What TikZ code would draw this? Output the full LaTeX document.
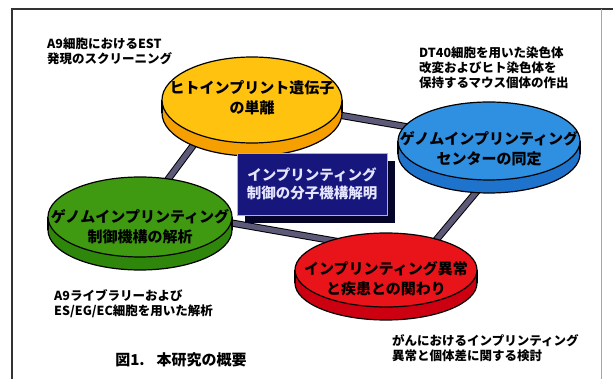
\documentclass[tikz,border=0pt]{standalone}
\usepackage{fontspec}
\newfontfamily\jp{Noto Sans CJK JP}
\usetikzlibrary{shapes.geometric,backgrounds}
\definecolor{yface}{HTML}{FFC20E}
\definecolor{yside}{HTML}{F5A000}
\definecolor{bface}{HTML}{2F8FE0}
\definecolor{bside}{HTML}{1E74CC}
\definecolor{gface}{HTML}{3F9A12}
\definecolor{gside}{HTML}{2E860A}
\definecolor{rface}{HTML}{E8141A}
\definecolor{rside}{HTML}{CC0010}
\definecolor{connc}{HTML}{5C5A78}
\definecolor{boxc}{HTML}{16167C}
\definecolor{boxsh}{HTML}{05052A}
\tikzset{
  outl/.style={draw=black, line width=1.2pt},
  disctext/.style={font=\jp\bfseries\fontsize{15}{20}\selectfont, align=center, inner sep=0pt, text=black},
  note/.style={font=\jp\bfseries\fontsize{12.5}{15}\selectfont, align=left, inner sep=0pt, anchor=north west, text=black},
  conn/.style={draw=black, line width=1pt, double=connc, double distance=5.2pt},
}
\newcommand\mydisc[9]{%
  \node[ellipse, outl, fill=#7, minimum width={2*#4 pt}, minimum height={2*#5 pt}, inner sep=0pt] (#1b) at (#2,#3+13) {};
  \fill[#7] (#2-#4,#3) rectangle (#2+#4,#3+13);
  \draw[line width=1.2pt] (#2-#4,#3) -- (#2-#4,#3+13) (#2+#4,#3) -- (#2+#4,#3+13);
  \node[ellipse, outl, fill=#6, minimum width={2*#4 pt}, minimum height={2*#5 pt}, inner sep=0pt] (#1) at (#2,#3) {};
  \node[disctext] (#1t) at (#2,#3+#9) {#8};
}
\begin{document}
\begin{tikzpicture}[x=1pt,y=-1pt]
\useasboundingbox (0,0) rectangle (613,379);
% discs
\mydisc{Y}{252}{100}{90}{43}{yface}{yside}{ヒトインプリント遺伝子\\の単離}{-2}
\mydisc{B}{489}{141}{91}{39}{bface}{bside}{ゲノムインプリンティング\\センターの同定}{8}
\mydisc{G}{140}{217}{92}{40}{gface}{gside}{ゲノムインプリンティング\\制御機構の解析}{10}
\mydisc{R}{386}{270}{91}{37}{rface}{rside}{インプリンティング異常\\と疾患との関わり}{9}
% center box
\node[fill=boxsh, minimum width=150pt, minimum height=62pt, inner sep=0pt] (Cs) at (320,192) {};
\node[fill=boxc, draw=black!30, line width=0.6pt, minimum width=150pt, minimum height=62pt, inner sep=0pt] (C) at (312,184) {};
\node[font=\jp\bfseries\fontsize{14.5}{18}\selectfont, align=center, text=white!90!blue, inner sep=0pt] (Ct) at (C) {インプリンティング\\制御の分子機構解明};
% notes
\node[note] (n1) at (47,38) {A9細胞におけるEST\\発現のスクリーニング};
\node[note] (n2) at (419,47) {DT40細胞を用いた染色体\\改変およびヒト染色体を\\保持するマウス個体の作出};
\node[note] (n3) at (54,289) {A9ライブラリーおよび\\ES/EG/EC細胞を用いた解析};
\node[note] (n4) at (392,334) {がんにおけるインプリンティング\\異常と個体差に関する検討};
\node[font=\jp\bfseries\fontsize{15}{17}\selectfont, inner sep=0pt, text=black] (cap) at (181,360) {図1.\hspace{12pt}本研究の概要};
% connectors and frame behind
\begin{pgfonlayer}{background}
\fill[white] (0,0) rectangle (613,379);
\draw[conn] (Y.center) -- (B.center);
\draw[conn] ([xshift=-25pt]Y.center) -- ([yshift=0pt]G.center);
\draw[conn] ([yshift=10pt]G.center) -- ([yshift=20pt]R.center);
\draw[conn] ([xshift=30pt]B.center) -- ([xshift=25pt]R.center);
\draw[line width=1.3pt, black!80] (12,379) -- (12,9) -- (613,9);
\draw[line width=0.8pt, black!35] (601,9) -- (601,379);
\end{pgfonlayer}
\end{tikzpicture}
\end{document}
